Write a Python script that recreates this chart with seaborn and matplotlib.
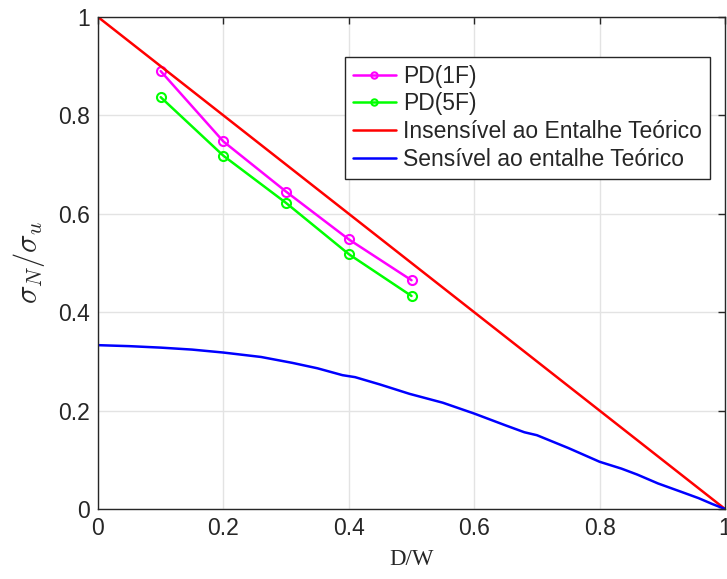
import matplotlib
matplotlib.use("Agg")
import matplotlib.pyplot as plt
import seaborn as sns
import numpy as np
import pandas as pd

# Data
x_pd = [0.1, 0.2, 0.3, 0.4, 0.5]
pd_1f = [0.890, 0.747, 0.645, 0.548, 0.465]
pd_5f = [0.837, 0.718, 0.622, 0.518, 0.433]
x_ins = [0.0, 1.0]
y_ins = [1.0, 0.0]
x_sens = [0.0, 0.05, 0.10, 0.15, 0.20, 0.26, 0.31, 0.35, 0.39, 0.41, 0.45, 0.497, 0.55, 0.60,
          0.65, 0.68, 0.70, 0.75, 0.80, 0.835, 0.86, 0.893, 0.93, 0.958, 0.98, 1.0]
y_sens = [0.333, 0.331, 0.328, 0.324, 0.318, 0.309, 0.297, 0.286, 0.272, 0.268, 0.253, 0.234, 0.216, 0.194,
          0.170, 0.156, 0.150, 0.124, 0.096, 0.082, 0.070, 0.052, 0.035, 0.022, 0.010, 0.0]
ticks = [0, 0.2, 0.4, 0.6, 0.8, 1.0]
tick_labels = ["0", "0.2", "0.4", "0.6", "0.8", "1"]
labels = ["PD(1F)", "PD(5F)", "Insensível ao Entalhe Teórico", "Sensível ao entalhe Teórico"]

sns.set_style("whitegrid")
plt.rcParams['font.family'] = ['Liberation Sans', 'DejaVu Sans']
plt.rcParams['mathtext.fontset'] = 'cm'

fig = plt.figure(figsize=(7.27, 5.79), dpi=100)
ax = fig.add_axes([98 / 727, 1 - 509 / 579, 627 / 727, 492 / 579])

sns.lineplot(x=x_pd, y=pd_1f, ax=ax, color=(1, 0, 1), lw=1.8, marker='o', markersize=6.5,
             markerfacecolor='none', markeredgecolor=(1, 0, 1), markeredgewidth=1.5, label=labels[0])
sns.lineplot(x=x_pd, y=pd_5f, ax=ax, color=(0, 1, 0), lw=1.8, marker='o', markersize=6.5,
             markerfacecolor='none', markeredgecolor=(0, 1, 0), markeredgewidth=1.5, label=labels[1])
sns.lineplot(x=x_ins, y=y_ins, ax=ax, color=(1, 0, 0), lw=1.8, label=labels[2])
sns.lineplot(x=x_sens, y=y_sens, ax=ax, color=(0, 0, 1), lw=1.8, label=labels[3])

ax.set_xlim(0, 1)
ax.set_ylim(0, 1)
ax.set_xticks(ticks)
ax.set_xticklabels(tick_labels)
ax.set_yticks(ticks)
ax.set_yticklabels(tick_labels)
ax.grid(True, color='#e3e3e3', lw=1)
ax.tick_params(axis='both', which='both', direction='in', length=5, width=1, color='#262626',
               labelsize=16.5, labelcolor='#262626', top=True, right=True, pad=6)
for s in ax.spines.values():
    s.set_visible(True)
    s.set_color('#262626')
    s.set_linewidth(1.0)

ax.set_xlabel("D/W", fontsize=16.5, family='Liberation Serif', color='#262626', labelpad=6)
ax.set_ylabel(r"$\sigma_N/\sigma_u$", fontsize=22, color='#262626', labelpad=8)

leg = ax.legend(loc='upper right', bbox_to_anchor=(0.976, 0.919), fontsize=16.5,
                frameon=True, fancybox=False, edgecolor='#262626', framealpha=1,
                handlelength=1.9, handletextpad=0.3, borderpad=0.35, labelspacing=0.2,
                markerscale=0.7, borderaxespad=0)
leg.get_frame().set_linewidth(1.0)

fig.savefig("out.png", dpi=100)
